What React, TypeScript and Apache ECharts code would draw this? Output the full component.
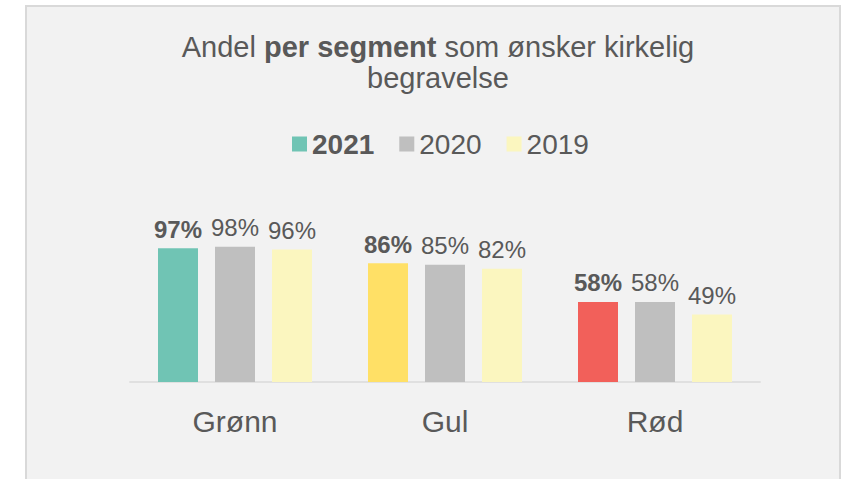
import React, { useEffect, useRef } from "react";
import * as echarts from "echarts";

const categories = ["Grønn", "Gul", "Rød"];
const seriesNames = ["2021", "2020", "2019"];
const values2021 = [0.97, 0.86, 0.58];
const values2020 = [0.98, 0.85, 0.58];
const values2019 = [0.96, 0.82, 0.49];
const colors2021 = ["#70C4B4", "#FFE066", "#F2605A"];
const color2020 = "#BFBFBF";
const color2019 = "#FBF6BF";

const FONT = "'Liberation Sans', Arial, sans-serif";
const TEXT = "#595959";

export default function App() {
  const ref = useRef<HTMLDivElement>(null);
  useEffect(() => {
    if (!ref.current) return;
    const chart = echarts.init(ref.current, undefined, { renderer: "svg" });
    const fmt = (p: any) => Math.round(p.value * 100) + "%";
    const label = (bold: boolean) => ({
      show: true,
      position: "top",
      distance: 7,
      formatter: fmt,
      color: TEXT,
      fontSize: 24,
      fontFamily: FONT,
      fontWeight: bold ? "bold" : "normal",
    });
    chart.setOption({
      animation: false,
      backgroundColor: "#ffffff",
      graphic: [
        {
          type: "rect",
          z: -10,
          silent: true,
          shape: { x: 26, y: 6, width: 814, height: 490 },
          style: { fill: "#F2F2F2", stroke: "#D9D9D9", lineWidth: 2 },
        },
      ],
      title: {
        left: 433,
        top: 26,
        textAlign: "center",
        text: "{n|Andel }{b|per segment}{n| som ønsker kirkelig}\n{n|begravelse}",
        textStyle: {
          fontFamily: FONT,
          fontSize: 29,
          fontWeight: "normal",
          color: TEXT,
          lineHeight: 31,
          rich: {
            n: { fontFamily: FONT, fontSize: 29, fontWeight: "normal", color: TEXT, lineHeight: 31 },
            b: { fontFamily: FONT, fontSize: 29, fontWeight: "bold", color: TEXT, lineHeight: 31 },
          },
        },
      },
      legend: {
        left: 287,
        top: 125,
        icon: "rect",
        itemWidth: 15,
        itemHeight: 15,
        itemGap: 25,
        textStyle: { fontFamily: FONT, fontSize: 28, color: TEXT },
        data: [
          { name: seriesNames[0], textStyle: { fontWeight: "bold" } },
          { name: seriesNames[1] },
          { name: seriesNames[2] },
        ],
      },
      grid: { left: 130, right: 86, top: 244, bottom: 97 },
      xAxis: {
        type: "category",
        data: categories,
        axisLine: { show: true, lineStyle: { color: "#E0E0E0", width: 2 } },
        axisTick: { show: false },
        axisLabel: { color: TEXT, fontSize: 30, fontFamily: FONT, margin: 24 },
      },
      yAxis: {
        type: "value",
        min: 0,
        max: 1,
        show: false,
        splitLine: { show: false },
      },
      series: [
        {
          name: seriesNames[0],
          type: "bar",
          barWidth: 40,
          barGap: "42.5%",
          color: colors2021[0],
          data: values2021.map((v, i) => ({ value: v, itemStyle: { color: colors2021[i] } })),
          label: label(true),
        },
        {
          name: seriesNames[1],
          type: "bar",
          barWidth: 40,
          barGap: "42.5%",
          color: color2020,
          data: values2020,
          label: label(false),
        },
        {
          name: seriesNames[2],
          type: "bar",
          barWidth: 40,
          barGap: "42.5%",
          color: color2019,
          data: values2019,
          label: label(false),
        },
      ],
    });
    return () => chart.dispose();
  }, []);
  return (
    <div
      ref={ref}
      style={{ position: "fixed", left: 0, top: 0, width: 846, height: 479 }}
    />
  );
}
